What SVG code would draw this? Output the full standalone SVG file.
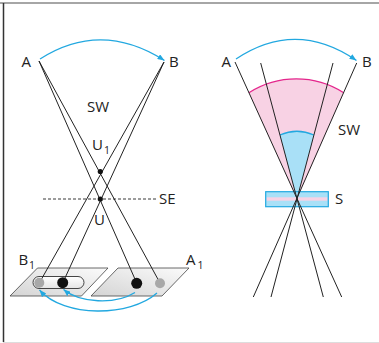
<svg xmlns="http://www.w3.org/2000/svg" width="379" height="343" viewBox="0 0 379 343">
<style>
.t{font-family:"Open Sans","Noto Sans","Liberation Sans",sans-serif;font-size:15px;fill:#222}
.s{font-family:"Open Sans","Noto Sans","Liberation Sans",sans-serif;font-size:10.5px;fill:#222}
.ln{stroke:#222;stroke-width:1;fill:none}
.bl{stroke:#22a8e0;stroke-width:1.3;fill:none}
.pl{stroke:#444;stroke-width:0.8;fill:url(#pg)}
</style>
<defs>
<linearGradient id="pg" x1="0" y1="1" x2="1" y2="0">
<stop offset="0" stop-color="#d4d4d4"/>
<stop offset="1" stop-color="#fbfbfb"/>
</linearGradient>
<linearGradient id="pill" x1="0" y1="0" x2="0" y2="1">
<stop offset="0" stop-color="#ffffff"/>
<stop offset="1" stop-color="#e4e4e4"/>
</linearGradient>
<marker id="ah" viewBox="0 0 10 8" refX="10" refY="4" markerWidth="7" markerHeight="5.6" markerUnits="userSpaceOnUse" orient="auto">
<path d="M0,0 L10,4 L0,8 Z" fill="#22a8e0"/>
</marker>
</defs>
<g id="frame">
<line x1="0" y1="3" x2="379" y2="3" stroke="#888" stroke-width="1.6"/>
<line x1="3.5" y1="3" x2="3.5" y2="342" stroke="#333" stroke-width="1.5"/>
<line x1="3" y1="342.5" x2="379" y2="342.5" stroke="#ddd" stroke-width="1"/>
</g>
<g id="left-diagram">
<g id="plane-B1">
<polygon class="pl" points="37.5,268 108,268 81.5,296 10,296"/>
<rect x="33" y="276.5" width="51" height="12" rx="6" fill="url(#pill)" stroke="#444" stroke-width="1"/>
</g>
<g id="plane-A1">
<polygon class="pl" points="118,268 189,268 162,296 91,296"/>
</g>
<g id="rays-left">
<line class="ln" x1="39" y1="61" x2="160" y2="283"/>
<line class="ln" x1="39" y1="61" x2="136.7" y2="283"/>
<line class="ln" x1="164" y1="62" x2="39.3" y2="283"/>
<line class="ln" x1="164" y1="62" x2="62.7" y2="283"/>
<line x1="43" y1="199" x2="157" y2="199" stroke="#222" stroke-width="0.9" stroke-dasharray="3,2"/>
</g>
<g id="points-left">
<circle cx="100.3" cy="171.5" r="2.6" fill="#111"/>
<circle cx="100.3" cy="199" r="2.6" fill="#111"/>
<circle cx="39.3" cy="282.7" r="5" fill="#a8a8a8"/>
<circle cx="62.7" cy="282.7" r="5.5" fill="#111"/>
<circle cx="136.7" cy="283.3" r="5.5" fill="#111"/>
<circle cx="160" cy="283.3" r="5" fill="#a8a8a8"/>
</g>
<g id="labels-left">
<text class="t" x="21.5" y="67">A</text>
<text class="t" x="169" y="67">B</text>
<text class="t" x="87" y="112">SW</text>
<text class="t" x="92" y="150">U</text><text class="s" x="104" y="153.5">1</text>
<text class="t" x="94" y="225">U</text>
<text class="t" x="159" y="204">SE</text>
<text class="t" x="18.5" y="265">B</text><text class="s" x="29" y="268.5">1</text>
<text class="t" x="186" y="265">A</text><text class="s" x="197.5" y="268.5">1</text>
</g>
</g>
<g id="right-diagram">
<g id="sectors">
<path d="M248.9,92.7 A88,88 0 0 1 343.7,92.7 L300.2,191.7 L293.7,191.7 Z" fill="#f8d2e4"/>
<path d="M248.9,92.7 A88,88 0 0 1 343.7,92.7" fill="none" stroke="#e4268c" stroke-width="1.3"/>
<path d="M279.9,135 A42,42 0 0 1 313.9,135 L298.9,191.7 L295.05,191.7 Z" fill="#a9e0f7"/>
<path d="M279.9,135 A42,42 0 0 1 313.9,135" fill="none" stroke="#22a8e0" stroke-width="1.3"/>
</g>
<g id="S">
<rect x="265.7" y="191.7" width="62.6" height="15" fill="#a9e0f7"/>
<rect x="266.5" y="197.3" width="61" height="3.4" fill="#f8d2e4"/>
<rect x="265.7" y="191.7" width="62.6" height="15" fill="none" stroke="#22a8e0" stroke-width="1.2"/>
</g>
<g id="rays-right">
<line class="ln" x1="235" y1="62" x2="341.7" y2="297"/>
<line class="ln" x1="260.7" y1="63" x2="323.3" y2="297"/>
<line class="ln" x1="333" y1="63" x2="271" y2="297"/>
<line class="ln" x1="356.7" y1="63" x2="253.3" y2="297"/>
</g>
<g id="labels-right">
<text class="t" x="221.5" y="67">A</text>
<text class="t" x="362" y="67">B</text>
<text class="t" x="338" y="135">SW</text>
<text class="t" x="335" y="204">S</text>
</g>
</g>
<g id="connectors">
<path class="bl" d="M40,59 Q101,20 164.5,60.5" marker-end="url(#ah)"/>
<path class="bl" d="M236,59 Q296,19 356.5,60.5" marker-end="url(#ah)"/>
<path class="bl" d="M135,292.5 C115,305 80,303 63.5,289.5" marker-end="url(#ah)"/>
<path class="bl" d="M157,293 C130,317 64,318 39.5,290" marker-end="url(#ah)"/>
</g>
</svg>
